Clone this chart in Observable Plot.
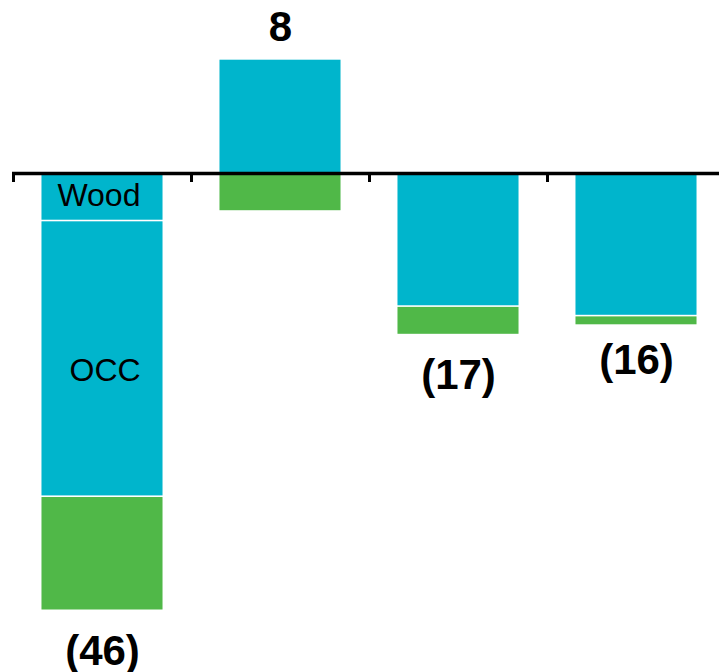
<!DOCTYPE html>
<html>
<head>
<meta charset="utf-8">
<script src="https://cdn.jsdelivr.net/npm/d3@7"></script>
<script src="https://cdn.jsdelivr.net/npm/@observablehq/plot@0.6"></script>
<style>
  html, body { margin: 0; padding: 0; background: #fff; }
  #chart svg { display: block; }
</style>
</head>
<body>
<div id="chart"></div>
<script>
// Stacked contribution bars: cyan segments (Wood, OCC) and a green segment per group
const groups = ["G1", "G2", "G3", "G4"];
const series = ["Wood", "OCC", "Other"];
const wood  = [-5, 0, 0, 0];
const occ   = [-29, 12, -14, -15];
const other = [-12, -4, -3, -1];
// segment names written inside the first bar
const segmentLabels = ["Wood", "OCC"];

const cyan = "#00b5cc";
const green = "#50b848";

// long table for the stack transform
const rows = [];
groups.forEach((g, i) => {
  [wood, occ, other].forEach((arr, s) => {
    if (arr[i] !== 0) rows.push({group: g, i, series: series[s], value: arr[i]});
  });
});

// net totals per group, label anchored at the outer end of the stack
const totals = groups.map((g, i) => {
  const vals = [wood[i], occ[i], other[i]];
  const net = d3.sum(vals);
  const pos = d3.sum(vals.filter(v => v > 0));
  const neg = d3.sum(vals.filter(v => v < 0));
  return {group: g, i, net, anchor: net >= 0 ? pos : neg,
          label: net < 0 ? `(${-net})` : `${net}`};
});

const half = 0.34; // half bar width in group units
const font = "'Liberation Sans', Arial, sans-serif";

// segment name shown only on the first group
const segText = name => d => (d.group === groups[0] && d.series === name ? d.series : null);

const chart = Plot.plot({
  width: 719,
  height: 672,
  marginLeft: 12,
  marginRight: 0,
  marginTop: 0,
  marginBottom: 0,
  style: {fontFamily: font, background: "white"},
  x: {domain: [0, groups.length], range: [13, 725], axis: null},
  y: {domain: [-46, 12], range: [610.3, 58.9], axis: null},
  color: {domain: series, range: [cyan, cyan, green]},
  marks: [
    Plot.rect(rows, Plot.stackY({
      x1: d => d.i + 0.5 - half,
      x2: d => d.i + 0.5 + half,
      y: "value",
      fill: "series",
      insetTop: 0.8,
      insetBottom: 0.8
    })),
    // segment names
    Plot.text(rows, Plot.stackY({
      x: d => d.i + 0.48, y: "value", text: segText(segmentLabels[0]),
      fontSize: 32, fill: "black", dy: -2
    })),
    Plot.text(rows, Plot.stackY({
      x: d => d.i + 0.515, y: "value", text: segText(segmentLabels[1]),
      fontSize: 32, fill: "black", dy: 12
    })),
    // zero line with boundary ticks
    Plot.ruleY([0], {stroke: "black", strokeWidth: 3.5}),
    Plot.ruleX(d3.range(groups.length), {
      x: d => d, y1: 0, y2: 0, insetBottom: -9, stroke: "black", strokeWidth: 3
    }),
    // net totals below negative bars
    Plot.text(totals.filter(d => d.net < 0 && d.i < 3), {
      x: d => d.i + 0.5, y: "anchor", text: "label",
      lineAnchor: "top", dy: 24, fontSize: 42, fontWeight: "bold", fill: "black"
    }),
    Plot.text(totals.filter(d => d.net < 0 && d.i === 3), {
      x: d => d.i + 0.5, y: "anchor", text: "label",
      lineAnchor: "top", dy: 19, fontSize: 42, fontWeight: "bold", fill: "black"
    }),
    // net total above the positive bar
    Plot.text(totals.filter(d => d.net >= 0), {
      x: d => d.i + 0.5, y: "anchor", text: "label",
      lineAnchor: "bottom", dy: -18, fontSize: 42, fontWeight: "bold", fill: "black"
    })
  ]
});

document.getElementById("chart").appendChild(chart);
</script>
</body>
</html>
